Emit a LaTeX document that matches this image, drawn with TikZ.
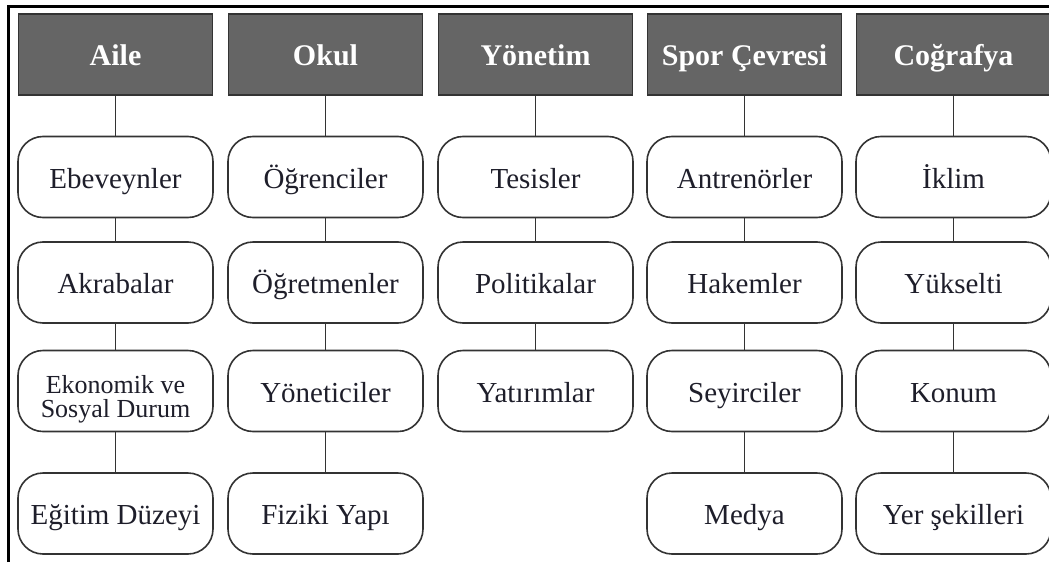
\documentclass[tikz,border=0pt]{standalone}
\usepackage{fontspec}
\setmainfont{Liberation Serif}
\definecolor{hdrfill}{HTML}{656565}
\definecolor{edge}{HTML}{333333}
\definecolor{txt}{HTML}{1E1E2A}
\tikzset{
  hdr/.style={draw=edge, line width=1.5pt, fill=hdrfill, minimum width=194pt, minimum height=81pt,
    text=white, font=\fontsize{30}{32}\selectfont\bfseries, inner sep=0pt,
    text height=23pt, text depth=2pt},
  item/.style={draw=edge, line width=1.6pt, fill=white, rounded corners=25pt, minimum width=195pt,
    minimum height=81pt, text=txt, font=\fontsize{29}{30}\selectfont, inner sep=0pt,
    text height=24pt, text depth=2pt},
  lineof/.style={text=txt, font=\fontsize{26}{26}\selectfont, inner sep=0pt, anchor=base},
  link/.style={draw=edge, line width=1.5pt}
}
\begin{document}
\begin{tikzpicture}[x=1pt,y=-1pt]
\useasboundingbox (0,0) rectangle (1049,562);
% frame
\draw[line width=3pt, black] (8.5,562) -- (8.5,6.5) -- (1049,6.5);
% headers
\node[hdr] (h1) at (115.5,54.5) {Aile};
\node[hdr] (h2) at (325.5,54.5) {Okul};
\node[hdr] (h3) at (535.5,54.5) {Yönetim};
\node[hdr] (h4) at (744.5,54.5) {Spor Çevresi};
\node[hdr] (h5) at (953.5,54.5) {Coğrafya};
% column 1
\node[item] (a1) at (115.5,177) {Ebeveynler};
\node[item] (a2) at (115.5,282.5) {Akrabalar};
\node[item] (a3) at (115.5,391) {};
\node[lineof] (a3top) at (115.5,393.5) {Ekonomik ve};
\node[lineof] (a3bot) at (115.5,417) {Sosyal Durum};
\node[item] (a4) at (115.5,513.5) {Eğitim Düzeyi};
% column 2
\node[item] (b1) at (325.5,177) {Öğrenciler};
\node[item] (b2) at (325.5,282.5) {Öğretmenler};
\node[item] (b3) at (325.5,391) {Yöneticiler};
\node[item] (b4) at (325.5,513.5) {Fiziki Yapı};
% column 3
\node[item] (c1) at (535.5,177) {Tesisler};
\node[item] (c2) at (535.5,282.5) {Politikalar};
\node[item] (c3) at (535.5,391) {Yatırımlar};
% column 4
\node[item] (d1) at (744.5,177) {Antrenörler};
\node[item] (d2) at (744.5,282.5) {Hakemler};
\node[item] (d3) at (744.5,391) {Seyirciler};
\node[item] (d4) at (744.5,513.5) {Medya};
% column 5
\node[item] (e1) at (953.5,177) {İklim};
\node[item] (e2) at (953.5,282.5) {Yükselti};
\node[item] (e3) at (953.5,391) {Konum};
\node[item] (e4) at (953.5,513.5) {Yer şekilleri};
% connectors
\foreach \p/\q in {h1/a1,a1/a2,a2/a3,a3/a4,h2/b1,b1/b2,b2/b3,b3/b4,h3/c1,c1/c2,c2/c3,h4/d1,d1/d2,d2/d3,d3/d4,h5/e1,e1/e2,e2/e3,e3/e4}
  \draw[link] (\p.south) -- (\q.north);
\end{tikzpicture}
\end{document}
